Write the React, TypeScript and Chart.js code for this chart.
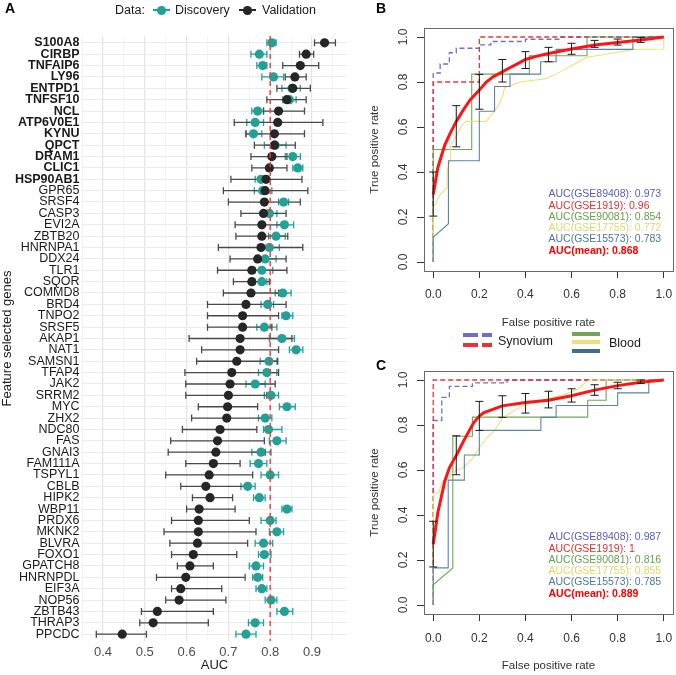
import React, { useEffect, useRef } from 'react';
import { Chart, registerables } from 'chart.js';

Chart.register(...registerables);

const FONT = "'Liberation Sans', Arial, Helvetica, sans-serif";

// ---------------- Panel A data ----------------
const genes = [
  'S100A8', 'CIRBP', 'TNFAIP6', 'LY96', 'ENTPD1', 'TNFSF10', 'NCL', 'ATP6V0E1', 'KYNU', 'QPCT',
  'DRAM1', 'CLIC1', 'HSP90AB1', 'GPR65', 'SRSF4', 'CASP3', 'EVI2A', 'ZBTB20', 'HNRNPA1', 'DDX24',
  'TLR1', 'SQOR', 'COMMD8', 'BRD4', 'TNPO2', 'SRSF5', 'AKAP1', 'NAT1', 'SAMSN1', 'TFAP4',
  'JAK2', 'SRRM2', 'MYC', 'ZHX2', 'NDC80', 'FAS', 'GNAI3', 'FAM111A', 'TSPYL1', 'CBLB',
  'HIPK2', 'WBP11', 'PRDX6', 'MKNK2', 'BLVRA', 'FOXO1', 'GPATCH8', 'HNRNPDL', 'EIF3A', 'NOP56',
  'ZBTB43', 'THRAP3', 'PPCDC',
];
const boldGeneCount = 13;

const validationAUC = [
  0.930, 0.886, 0.872, 0.859, 0.854, 0.840, 0.820, 0.818, 0.810, 0.810,
  0.804, 0.798, 0.790, 0.788, 0.786, 0.784, 0.780, 0.780, 0.778, 0.770,
  0.756, 0.756, 0.754, 0.742, 0.734, 0.734, 0.728, 0.728, 0.720, 0.708,
  0.704, 0.700, 0.698, 0.696, 0.680, 0.674, 0.670, 0.664, 0.654, 0.646,
  0.656, 0.630, 0.628, 0.628, 0.626, 0.616, 0.608, 0.598, 0.586, 0.582,
  0.530, 0.520, 0.446,
];
const validationLo = [
  0.906, 0.870, 0.830, 0.836, 0.816, 0.792, 0.784, 0.714, 0.742, 0.762,
  0.754, 0.756, 0.706, 0.688, 0.700, 0.730, 0.716, 0.718, 0.676, 0.704,
  0.674, 0.712, 0.688, 0.650, 0.650, 0.650, 0.606, 0.636, 0.624, 0.596,
  0.598, 0.598, 0.628, 0.612, 0.590, 0.562, 0.556, 0.598, 0.550, 0.586,
  0.614, 0.600, 0.564, 0.546, 0.560, 0.564, 0.578, 0.528, 0.564, 0.550,
  0.492, 0.488, 0.384,
];
const validationHi = [
  0.956, 0.904, 0.916, 0.886, 0.896, 0.886, 0.882, 0.926, 0.882, 0.860,
  0.840, 0.840, 0.876, 0.890, 0.872, 0.838, 0.830, 0.842, 0.878, 0.838,
  0.840, 0.798, 0.820, 0.838, 0.820, 0.804, 0.852, 0.820, 0.818, 0.820,
  0.812, 0.792, 0.770, 0.784, 0.768, 0.786, 0.788, 0.728, 0.758, 0.752,
  0.710, 0.716, 0.750, 0.766, 0.746, 0.720, 0.664, 0.740, 0.684, 0.694,
  0.664, 0.652, 0.504,
];
const discoveryAUC = [
  0.804, 0.774, 0.782, 0.808, 0.852, 0.846, 0.770, 0.764, 0.760, 0.812,
  0.854, 0.866, 0.778, 0.782, 0.832, 0.798, 0.834, 0.814, 0.798, 0.788,
  0.780, 0.780, 0.830, 0.794, 0.838, 0.786, 0.828, 0.862, 0.797, 0.792,
  0.764, 0.802, 0.840, 0.788, 0.796, 0.816, 0.778, 0.772, 0.800, 0.746,
  0.774, 0.840, 0.800, 0.816, 0.784, 0.786, 0.766, 0.770, 0.780, 0.802,
  0.834, 0.764, 0.742,
];
const discoveryLo = [
  0.792, 0.754, 0.768, 0.780, 0.828, 0.830, 0.756, 0.744, 0.742, 0.786,
  0.836, 0.854, 0.764, 0.762, 0.820, 0.788, 0.816, 0.796, 0.780, 0.766,
  0.764, 0.764, 0.812, 0.778, 0.828, 0.768, 0.798, 0.846, 0.776, 0.772,
  0.742, 0.786, 0.822, 0.772, 0.784, 0.798, 0.756, 0.752, 0.778, 0.730,
  0.760, 0.828, 0.778, 0.798, 0.764, 0.772, 0.750, 0.758, 0.766, 0.788,
  0.816, 0.748, 0.718,
];
const discoveryHi = [
  0.814, 0.792, 0.792, 0.832, 0.872, 0.862, 0.784, 0.784, 0.780, 0.838,
  0.872, 0.878, 0.792, 0.804, 0.844, 0.816, 0.856, 0.836, 0.822, 0.814,
  0.806, 0.792, 0.850, 0.808, 0.854, 0.816, 0.858, 0.878, 0.816, 0.816,
  0.788, 0.820, 0.860, 0.804, 0.828, 0.838, 0.802, 0.792, 0.820, 0.764,
  0.788, 0.852, 0.814, 0.832, 0.806, 0.802, 0.784, 0.782, 0.792, 0.816,
  0.854, 0.784, 0.766,
];
const aucMajorTicks = [0.4, 0.5, 0.6, 0.7, 0.8, 0.9];
const aucMinorTicks = [0.35, 0.45, 0.55, 0.65, 0.75, 0.85, 0.95];
const aucThreshold = 0.8;

// ---------------- Panel B / C data ([fpr, tpr]) ----------------
const rocTicks = [0, 0.2, 0.4, 0.6, 0.8, 1.0];
const rocErrFpr = [0, 0.1, 0.2, 0.3, 0.4, 0.5, 0.6, 0.7, 0.8, 0.9];

const bGSE89408 = [[0, 0], [0, 0.84], [0.03, 0.84], [0.03, 0.88], [0.07, 0.88], [0.07, 0.93], [0.1, 0.93], [0.1, 0.95], [0.2, 0.95], [0.2, 0.965], [0.25, 0.965], [0.25, 0.98], [0.4, 0.98], [0.4, 0.99], [0.55, 0.99], [0.55, 1], [1, 1]];
const bGSE1919 = [[0, 0], [0, 0.8], [0.2, 0.8], [0.2, 1], [1, 1]];
const bGSE90081 = [[0, 0], [0, 0.5], [0.167, 0.5], [0.167, 0.835], [0.417, 0.835], [0.417, 0.917], [0.667, 0.917], [0.667, 1], [1, 1]];
const bGSE17755 = [[0, 0], [0, 0.24], [0.03, 0.3], [0.06, 0.33], [0.06, 0.41], [0.075, 0.45], [0.075, 0.52], [0.1, 0.56], [0.12, 0.6], [0.14, 0.625], [0.23, 0.625], [0.25, 0.65], [0.28, 0.69], [0.3, 0.735], [0.31, 0.775], [0.38, 0.8], [0.49, 0.815], [0.55, 0.845], [0.62, 0.883], [0.665, 0.91], [0.77, 0.927], [0.87, 0.945], [1, 0.947], [1, 1]];
const bGSE15573 = [[0, 0], [0, 0.11], [0.066, 0.17], [0.066, 0.45], [0.2, 0.45], [0.2, 0.67], [0.266, 0.67], [0.266, 0.78], [0.333, 0.78], [0.333, 0.835], [0.466, 0.835], [0.466, 0.89], [0.533, 0.89], [0.533, 0.945], [0.866, 0.945], [0.866, 1], [1, 1]];
const bMean = [[0, 0.3], [0.01, 0.36], [0.02, 0.42], [0.035, 0.47], [0.05, 0.52], [0.075, 0.575], [0.1, 0.625], [0.13, 0.675], [0.16, 0.72], [0.2, 0.764], [0.23, 0.8], [0.261, 0.824], [0.3, 0.845], [0.326, 0.86], [0.369, 0.883], [0.4, 0.9], [0.45, 0.915], [0.5, 0.927], [0.55, 0.937], [0.6, 0.947], [0.65, 0.956], [0.7, 0.964], [0.8, 0.976], [0.9, 0.987], [1, 1]];
const bErrLo = [0.204, 0.512, 0.679, 0.80, 0.86, 0.89, 0.923, 0.954, 0.964, 0.976];
const bErrHi = [0.40, 0.695, 0.834, 0.90, 0.935, 0.954, 0.972, 0.985, 0.991, 0.997];
const bAucLabels = ['AUC(GSE89408): 0.973', 'AUC(GSE1919): 0.96', 'AUC(GSE90081): 0.854', 'AUC(GSE17755): 0.772', 'AUC(GSE15573): 0.783', 'AUC(mean): 0.868'];

const cGSE89408 = [[0, 0], [0, 0.82], [0.037, 0.82], [0.037, 0.923], [0.07, 0.923], [0.07, 0.972], [0.17, 0.972], [0.17, 0.987], [0.32, 0.987], [0.32, 1], [1, 1]];
const cGSE1919 = [[0, 0], [0, 1], [1, 1]];
const cGSE90081 = [[0, 0], [0, 0.09], [0.085, 0.165], [0.085, 0.75], [0.17, 0.75], [0.17, 0.835], [0.67, 0.835], [0.67, 0.91], [0.75, 0.91], [0.75, 1], [1, 1]];
const cGSE17755 = [[0, 0], [0, 0.49], [0.023, 0.5], [0.04, 0.55], [0.07, 0.57], [0.1, 0.6], [0.13, 0.61], [0.17, 0.65], [0.2, 0.7], [0.23, 0.74], [0.27, 0.78], [0.3, 0.83], [0.35, 0.865], [0.4, 0.89], [0.49, 0.915], [0.57, 0.935], [0.63, 0.96], [0.66, 0.99], [0.68, 1], [1, 1]];
const cGSE15573 = [[0, 0], [0, 0.165], [0.065, 0.165], [0.065, 0.555], [0.135, 0.555], [0.135, 0.667], [0.2, 0.667], [0.2, 0.776], [0.467, 0.776], [0.467, 0.834], [0.533, 0.834], [0.533, 0.887], [0.8, 0.887], [0.8, 0.943], [0.935, 0.943], [0.935, 1], [1, 1]];
const cMean = [[0, 0.27], [0.01, 0.34], [0.02, 0.41], [0.035, 0.48], [0.05, 0.55], [0.07, 0.61], [0.1, 0.665], [0.135, 0.735], [0.175, 0.81], [0.2, 0.84], [0.22, 0.855], [0.3, 0.885], [0.4, 0.9], [0.5, 0.91], [0.6, 0.93], [0.7, 0.955], [0.8, 0.975], [0.9, 0.99], [1, 1]];
const cErrLo = [0.169, 0.579, 0.776, 0.834, 0.853, 0.876, 0.902, 0.932, 0.961, 0.985];
const cErrHi = [0.372, 0.752, 0.905, 0.93, 0.94, 0.95, 0.961, 0.979, 0.99, 1.0];
const cAucLabels = ['AUC(GSE89408): 0.987', 'AUC(GSE1919): 1', 'AUC(GSE90081): 0.816', 'AUC(GSE17755): 0.855', 'AUC(GSE15573): 0.785', 'AUC(mean): 0.889'];
const aucLabelY = [0.3, 0.25, 0.2, 0.15, 0.1, 0.05];

// ---------------- styles ----------------
const discColor = '#24a196';
const valColor = '#262626';
const valBarColor = '#4a4a4a';
const cBlue = '#6d6dd2';
const cRed = '#e8323a';
const cGreen = '#71a55a';
const cYellow = '#ece27c';
const cSteel = '#5a87a3';
const cMeanRed = '#ff1414';
const aucTextColors = ['#5a5ac2', '#e0302f', '#65a04d', '#e2d66c', '#4d7897', '#ff0000'];

function panelAConfig(): any {
  const isMajor = (v: number) => aucMajorTicks.some((m) => Math.abs(m - v) < 1e-6);
  const errPlugin = {
    id: 'errbarsA',
    beforeDatasetsDraw(chart: any) {
      const { ctx, scales } = chart;
      const x = scales.x, y = scales.y;
      const draw = (lo: number[], hi: number[], color: string) => {
        ctx.strokeStyle = color;
        ctx.lineWidth = 1.3;
        genes.forEach((_, i) => {
          const yy = y.getPixelForValue(i);
          const x1 = x.getPixelForValue(lo[i]);
          const x2 = x.getPixelForValue(hi[i]);
          ctx.beginPath();
          ctx.moveTo(x1, yy); ctx.lineTo(x2, yy);
          ctx.moveTo(x1, yy - 3.5); ctx.lineTo(x1, yy + 3.5);
          ctx.moveTo(x2, yy - 3.5); ctx.lineTo(x2, yy + 3.5);
          ctx.stroke();
        });
      };
      ctx.save();
      draw(discoveryLo, discoveryHi, discColor);
      draw(validationLo, validationHi, valBarColor);
      ctx.restore();
    },
    afterDatasetsDraw(chart: any) {
      const { ctx, scales, chartArea } = chart;
      const xx = scales.x.getPixelForValue(aucThreshold);
      ctx.save();
      ctx.strokeStyle = 'rgba(236,60,70,0.9)';
      ctx.lineWidth = 1.6;
      ctx.setLineDash([5, 4]);
      ctx.beginPath();
      ctx.moveTo(xx, chartArea.top);
      ctx.lineTo(xx, chartArea.bottom);
      ctx.stroke();
      ctx.restore();
    },
  };
  return {
    type: 'scatter',
    data: {
      datasets: [
        {
          label: 'Validation',
          data: genes.map((_, i) => ({ x: validationAUC[i], y: i })),
          backgroundColor: valColor,
          borderWidth: 0,
          pointRadius: 4.6,
          order: 0,
        },
        {
          label: 'Discovery',
          data: genes.map((_, i) => ({ x: discoveryAUC[i], y: i })),
          backgroundColor: discColor,
          borderWidth: 0,
          pointRadius: 4.6,
          order: 1,
        },
      ],
    },
    options: {
      responsive: false,
      animation: false,
      events: [],
      layout: { padding: { top: 36, right: 13, left: 0, bottom: 0 } },
      plugins: { legend: { display: false }, tooltip: { enabled: false } },
      scales: {
        x: {
          type: 'linear',
          min: 0.3498,
          max: 0.9837,
          afterBuildTicks: (s: any) => {
            s.ticks = [...aucMajorTicks, ...aucMinorTicks].sort((a, b) => a - b).map((v) => ({ value: v }));
          },
          afterFit: (s: any) => { s.height = 34; },
          ticks: {
            autoSkip: false,
            maxRotation: 0,
            padding: 4,
            color: '#4d4d4d',
            font: { family: FONT, size: 13 },
            callback: (v: number) => (isMajor(v) ? v.toFixed(1) : ''),
          },
          grid: {
            drawTicks: false,
            color: (ctx: any) => (ctx.tick && isMajor(ctx.tick.value) ? '#e4e4e4' : '#efefef'),
            lineWidth: (ctx: any) => (ctx.tick && isMajor(ctx.tick.value) ? 1.2 : 0.6),
          },
          border: { display: false },
          title: { display: true, text: 'AUC', color: '#1a1a1a', font: { family: FONT, size: 13 }, padding: { top: 0, bottom: 2 } },
        },
        y: {
          type: 'linear',
          reverse: true,
          min: -0.6,
          max: genes.length - 1 + 0.6,
          afterBuildTicks: (s: any) => {
            s.ticks = genes.map((_, i) => ({ value: i }));
          },
          afterFit: (s: any) => { s.width = 82; },
          ticks: {
            autoSkip: false,
            padding: 2.5,
            color: '#1a1a1a',
            font: (ctx: any) => ({
              family: FONT,
              size: 12.5,
              weight: ctx.index < boldGeneCount ? 'bold' : 'normal',
            }),
            callback: (v: number) => genes[Math.round(v)] ?? '',
          },
          grid: { drawTicks: false, color: '#ebebeb', lineWidth: 1.1 },
          border: { display: false },
          title: { display: true, text: 'Feature selected genes', color: '#1a1a1a', font: { family: FONT, size: 13 }, padding: { top: 0, bottom: 0 } },
        },
      },
    },
    plugins: [errPlugin],
  };
}

function rocConfig(
  curves: { s89408: number[][]; s1919: number[][]; s90081: number[][]; s17755: number[][]; s15573: number[][]; mean: number[][] },
  errLo: number[],
  errHi: number[],
  aucLabels: string[],
  padTop: number,
  xHeight: number,
  titlePadBottom: number,
  xTickPad: number,
): any {
  const pts = (arr: number[][]) => arr.map(([x, y]) => ({ x, y }));
  const rocPlugin = {
    id: 'rocExtras',
    afterDatasetsDraw(chart: any) {
      const { ctx, scales } = chart;
      const x = scales.x, y = scales.y;
      ctx.save();
      // error bars
      ctx.strokeStyle = '#1a1a1a';
      ctx.lineWidth = 1;
      rocErrFpr.forEach((f, i) => {
        const xx = x.getPixelForValue(f);
        const y1 = y.getPixelForValue(errLo[i]);
        const y2 = y.getPixelForValue(errHi[i]);
        ctx.beginPath();
        ctx.moveTo(xx, y1); ctx.lineTo(xx, y2);
        ctx.moveTo(xx - 4, y1); ctx.lineTo(xx + 4, y1);
        ctx.moveTo(xx - 4, y2); ctx.lineTo(xx + 4, y2);
        ctx.stroke();
      });
      // AUC labels
      ctx.textAlign = 'left';
      ctx.textBaseline = 'middle';
      aucLabels.forEach((t, i) => {
        const bold = i === aucLabels.length - 1;
        ctx.font = `${bold ? 'bold ' : ''}10.5px ${FONT}`;
        ctx.fillStyle = aucTextColors[i];
        ctx.fillText(t, x.getPixelForValue(0.5), y.getPixelForValue(aucLabelY[i]));
      });
      ctx.restore();
    },
    afterDraw(chart: any) {
      const { ctx, chartArea } = chart;
      ctx.save();
      ctx.strokeStyle = '#6a6a6a';
      ctx.lineWidth = 1;
      ctx.strokeRect(Math.round(chartArea.left) + 0.5, Math.round(chartArea.top) + 0.5, Math.round(chartArea.right - chartArea.left), Math.round(chartArea.bottom - chartArea.top));
      ctx.restore();
    },
  };
  const line = (data: number[][], color: string, width: number, order: number, dash?: number[]) => ({
    data: pts(data),
    showLine: true,
    borderColor: color,
    backgroundColor: color,
    borderWidth: width,
    borderDash: dash || [],
    pointRadius: 0,
    tension: 0,
    order,
  });
  const axisCommon = (title: string, isX: boolean) => ({
    type: 'linear',
    min: -0.04,
    max: 1.04,
    afterBuildTicks: (s: any) => { s.ticks = rocTicks.map((v) => ({ value: v })); },
    ticks: {
      autoSkip: false,
      color: '#333',
      font: { family: FONT, size: 12 },
      callback: (v: number) => v.toFixed(1),
      ...(isX ? { maxRotation: 0, padding: xTickPad } : { minRotation: 90, maxRotation: 90, crossAlign: 'center', padding: 5 }),
    },
    grid: { drawOnChartArea: false, drawTicks: true, tickLength: 7, color: '#333', tickColor: '#333', tickWidth: 1 },
    border: { display: false },
    title: {
      display: true,
      text: title,
      color: '#333',
      font: { family: FONT, size: 11.5 },
      padding: isX ? { top: 0, bottom: titlePadBottom } : { top: 8, bottom: 0 },
    },
  });
  return {
    type: 'scatter',
    data: {
      datasets: [
        line(curves.mean, cMeanRed, 3, 0),
        line(curves.s15573, cSteel, 1.1, 1),
        line(curves.s17755, cYellow, 1.1, 2),
        line(curves.s90081, cGreen, 1.1, 3),
        line(curves.s1919, cRed, 1.3, 4, [5, 3]),
        line(curves.s89408, cBlue, 1.3, 5, [5, 3]),
      ],
    },
    options: {
      responsive: false,
      animation: false,
      events: [],
      layout: { padding: { top: padTop, right: 3, left: 0, bottom: 0 } },
      plugins: { legend: { display: false }, tooltip: { enabled: false } },
      scales: {
        x: {
          ...axisCommon('False positive rate', true),
          afterFit: (s: any) => { s.height = xHeight; s.paddingLeft = 0; s.paddingRight = 0; },
        },
        y: {
          ...axisCommon('True positive rate', false),
          afterFit: (s: any) => { s.width = 64; s.paddingTop = 0; s.paddingBottom = 0; },
        },
      },
    },
    plugins: [rocPlugin],
  };
}

const abs = (l: number, t: number, extra: any = {}): any => ({ position: 'absolute', left: l, top: t, ...extra });

export default function App() {
  const aRef = useRef<HTMLCanvasElement>(null);
  const bRef = useRef<HTMLCanvasElement>(null);
  const cRef = useRef<HTMLCanvasElement>(null);

  useEffect(() => {
    document.body.style.margin = '0';
    const charts = [
      new Chart(aRef.current as HTMLCanvasElement, panelAConfig()),
      new Chart(
        bRef.current as HTMLCanvasElement,
        rocConfig({ s89408: bGSE89408, s1919: bGSE1919, s90081: bGSE90081, s17755: bGSE17755, s15573: bGSE15573, mean: bMean }, bErrLo, bErrHi, bAucLabels, 28, 64, 5, 9),
      ),
      new Chart(
        cRef.current as HTMLCanvasElement,
        rocConfig({ s89408: cGSE89408, s1919: cGSE1919, s90081: cGSE90081, s17755: cGSE17755, s15573: cGSE15573, mean: cMean }, cErrLo, cErrHi, cAucLabels, 16, 61, 2, 10),
      ),
    ];
    return () => charts.forEach((c) => c.destroy());
  }, []);

  const txt = { fontFamily: FONT, lineHeight: '14px', whiteSpace: 'nowrap' as const };

  return (
    <div style={{ position: 'relative', width: 676, height: 675, overflow: 'hidden', background: '#fff', fontFamily: FONT }}>
      <canvas ref={aRef} width={360} height={675} style={abs(0, 0, { width: 360, height: 675 })} />
      <canvas ref={bRef} width={316} height={335} style={abs(360, 0, { width: 316, height: 335 })} />
      <canvas ref={cRef} width={316} height={320} style={abs(360, 355, { width: 316, height: 320 })} />

      {/* panel letters */}
      <div style={abs(5, 1, { ...txt, fontSize: 14, fontWeight: 'bold', color: '#000' })}>A</div>
      <div style={abs(376, 1, { ...txt, fontSize: 14, fontWeight: 'bold', color: '#000' })}>B</div>
      <div style={abs(376, 358, { ...txt, fontSize: 14, fontWeight: 'bold', color: '#000' })}>C</div>

      {/* panel A legend */}
      <div style={abs(115, 3, { ...txt, fontSize: 12.5, color: '#1a1a1a' })}>Data:</div>
      <div style={abs(153, 9.4, { width: 17, height: 1.3, background: discColor })} />
      <div style={abs(157, 6, { width: 8.5, height: 8.5, borderRadius: '50%', background: discColor })} />
      <div style={abs(175, 3, { ...txt, fontSize: 12.5, color: '#1a1a1a' })}>Discovery</div>
      <div style={abs(239, 9.4, { width: 17, height: 1.3, background: valColor })} />
      <div style={abs(243, 6, { width: 8.5, height: 8.5, borderRadius: '50%', background: valColor })} />
      <div style={abs(262, 3, { ...txt, fontSize: 12.5, color: '#1a1a1a' })}>Validation</div>

      {/* ROC legend */}
      <div style={abs(463, 333, { width: 15, height: 4, background: cBlue })} />
      <div style={abs(482, 333, { width: 10, height: 4, background: cBlue })} />
      <div style={abs(463, 343, { width: 15, height: 4, background: cRed })} />
      <div style={abs(482, 343, { width: 10, height: 4, background: cRed })} />
      <div style={abs(498, 334, { ...txt, fontSize: 12.5, color: '#1a1a1a' })}>Synovium</div>
      <div style={abs(572, 332, { width: 28, height: 4, background: cGreen })} />
      <div style={abs(572, 340, { width: 28, height: 4, background: cYellow })} />
      <div style={abs(572, 349, { width: 28, height: 4, background: '#3f6f90' })} />
      <div style={abs(609, 336, { ...txt, fontSize: 12.5, color: '#1a1a1a' })}>Blood</div>
    </div>
  );
}
